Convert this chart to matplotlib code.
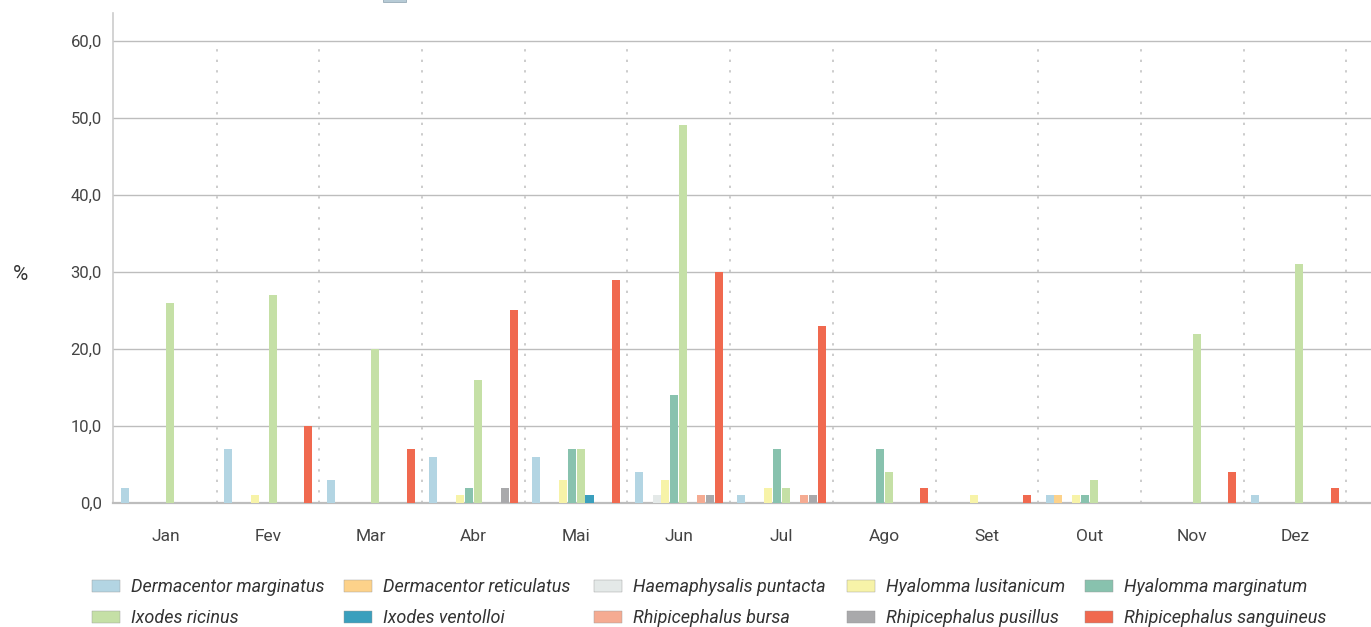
import matplotlib.pyplot as plt
import numpy as np
from matplotlib.patches import Rectangle, Patch

months = ['Jan', 'Fev', 'Mar', 'Abr', 'Mai', 'Jun', 'Jul', 'Ago', 'Set', 'Out', 'Nov', 'Dez']

species = ['Dermacentor marginatus', 'Dermacentor reticulatus', 'Haemaphysalis puntacta',
           'Hyalomma lusitanicum', 'Hyalomma marginatum', 'Ixodes ricinus',
           'Ixodes ventolloi', 'Rhipicephalus bursa', 'Rhipicephalus pusillus',
           'Rhipicephalus sanguineus']

colors = ['#b3d5e3', '#fdd28a', '#e4e9e8', '#f7f3a8', '#88c2ae',
          '#c5e0a6', '#3a9fbd', '#f5ab92', '#a9a9ab', '#f0694f']

# % per month, one list per species
d_marginatus   = [2, 7, 3, 6, 6, 4, 1, 0, 0, 1, 0, 1]
d_reticulatus  = [0, 0, 0, 0, 0, 0, 0, 0, 0, 1, 0, 0]
h_puntacta     = [0, 0, 0, 0, 0, 1, 0, 0, 0, 0, 0, 0]
h_lusitanicum  = [0, 1, 0, 1, 3, 3, 2, 0, 1, 1, 0, 0]
h_marginatum   = [0, 0, 0, 2, 7, 14, 7, 7, 0, 1, 0, 0]
i_ricinus      = [26, 27, 20, 16, 7, 49, 2, 4, 0, 3, 22, 31]
i_ventolloi    = [0, 0, 0, 0, 1, 0, 0, 0, 0, 0, 0, 0]
r_bursa        = [0, 0, 0, 0, 0, 1, 1, 0, 0, 0, 0, 0]
r_pusillus     = [0, 0, 0, 2, 0, 1, 1, 0, 0, 0, 0, 0]
r_sanguineus   = [0, 10, 7, 25, 29, 30, 23, 2, 1, 0, 4, 2]

series = [d_marginatus, d_reticulatus, h_puntacta, h_lusitanicum, h_marginatum,
          i_ricinus, i_ventolloi, r_bursa, r_pusillus, r_sanguineus]

plt.rcParams['font.family'] = ['Roboto', 'DejaVu Sans']

fig = plt.figure(figsize=(13.71, 6.27), dpi=100)
ax = fig.add_axes([113 / 1371, 124 / 627, 1 - 113 / 1371, (503 - 13) / 627])

x = np.arange(len(months))
step = 0.0867
width = 0.078
for k, (vals, c) in enumerate(zip(series, colors)):
    ax.bar(x + (k - 4.5) * step, vals, width=width, color=c, zorder=3)

ax.set_xlim(-0.51, 11.74)
ax.set_ylim(0, 63.6)

ax.set_yticks(np.arange(0, 61, 10))
ax.set_yticklabels([f'{v:.1f}'.replace('.', ',') for v in np.arange(0, 61, 10)],
                   fontsize=12, color='#444444')
ax.set_xticks(x)
ax.set_xticklabels(months, fontsize=12.5, color='#444444')
ax.tick_params(axis='both', length=0)
ax.tick_params(axis='y', pad=8)
ax.tick_params(axis='x', pad=19)

for yv in np.arange(10, 61, 10):
    ax.axhline(yv, color='#bdbdbd', lw=1, zorder=1)
ax.vlines(x + 0.5, 0, 60, colors='#cccccc', lw=1.4,
          linestyles=(0, (1.2, 4.2)), zorder=1)

for s in ['top', 'right']:
    ax.spines[s].set_visible(False)
ax.spines['left'].set_color('#cccccc')
ax.spines['left'].set_linewidth(1.2)
ax.spines['bottom'].set_color('#bdbdbd')
ax.spines['bottom'].set_linewidth(1.6)

fig.text(20 / 1371, 1 - 274 / 627, '%', fontsize=15, color='#333333',
         ha='center', va='center')

# legend, laid out as a 5 x 2 grid
col_x = [92, 344, 594, 847, 1085]
for j in range(5):
    hs = [Patch(facecolor=colors[j], edgecolor='#999999', lw=0.3),
          Patch(facecolor=colors[j + 5], edgecolor='#999999', lw=0.3)]
    fig.legend(hs, [species[j], species[j + 5]],
               loc='upper left', bbox_to_anchor=((col_x[j] - 5) / 1371, 1 - 573 / 627),
               frameon=False, handlelength=1.55, handleheight=0.65, handletextpad=0.6,
               labelspacing=0.72, borderaxespad=0, borderpad=0.3,
               prop={'style': 'italic', 'size': 13}, labelcolor='#333333')

# clipped header box
fig.patches.append(Rectangle((383 / 1371, 1 - 2 / 627), 23 / 1371, 12 / 627,
                             transform=fig.transFigure, facecolor='#b7cbd6',
                             edgecolor='#8aa0ad', lw=0.5))

fig.savefig('out.png', dpi=100)
